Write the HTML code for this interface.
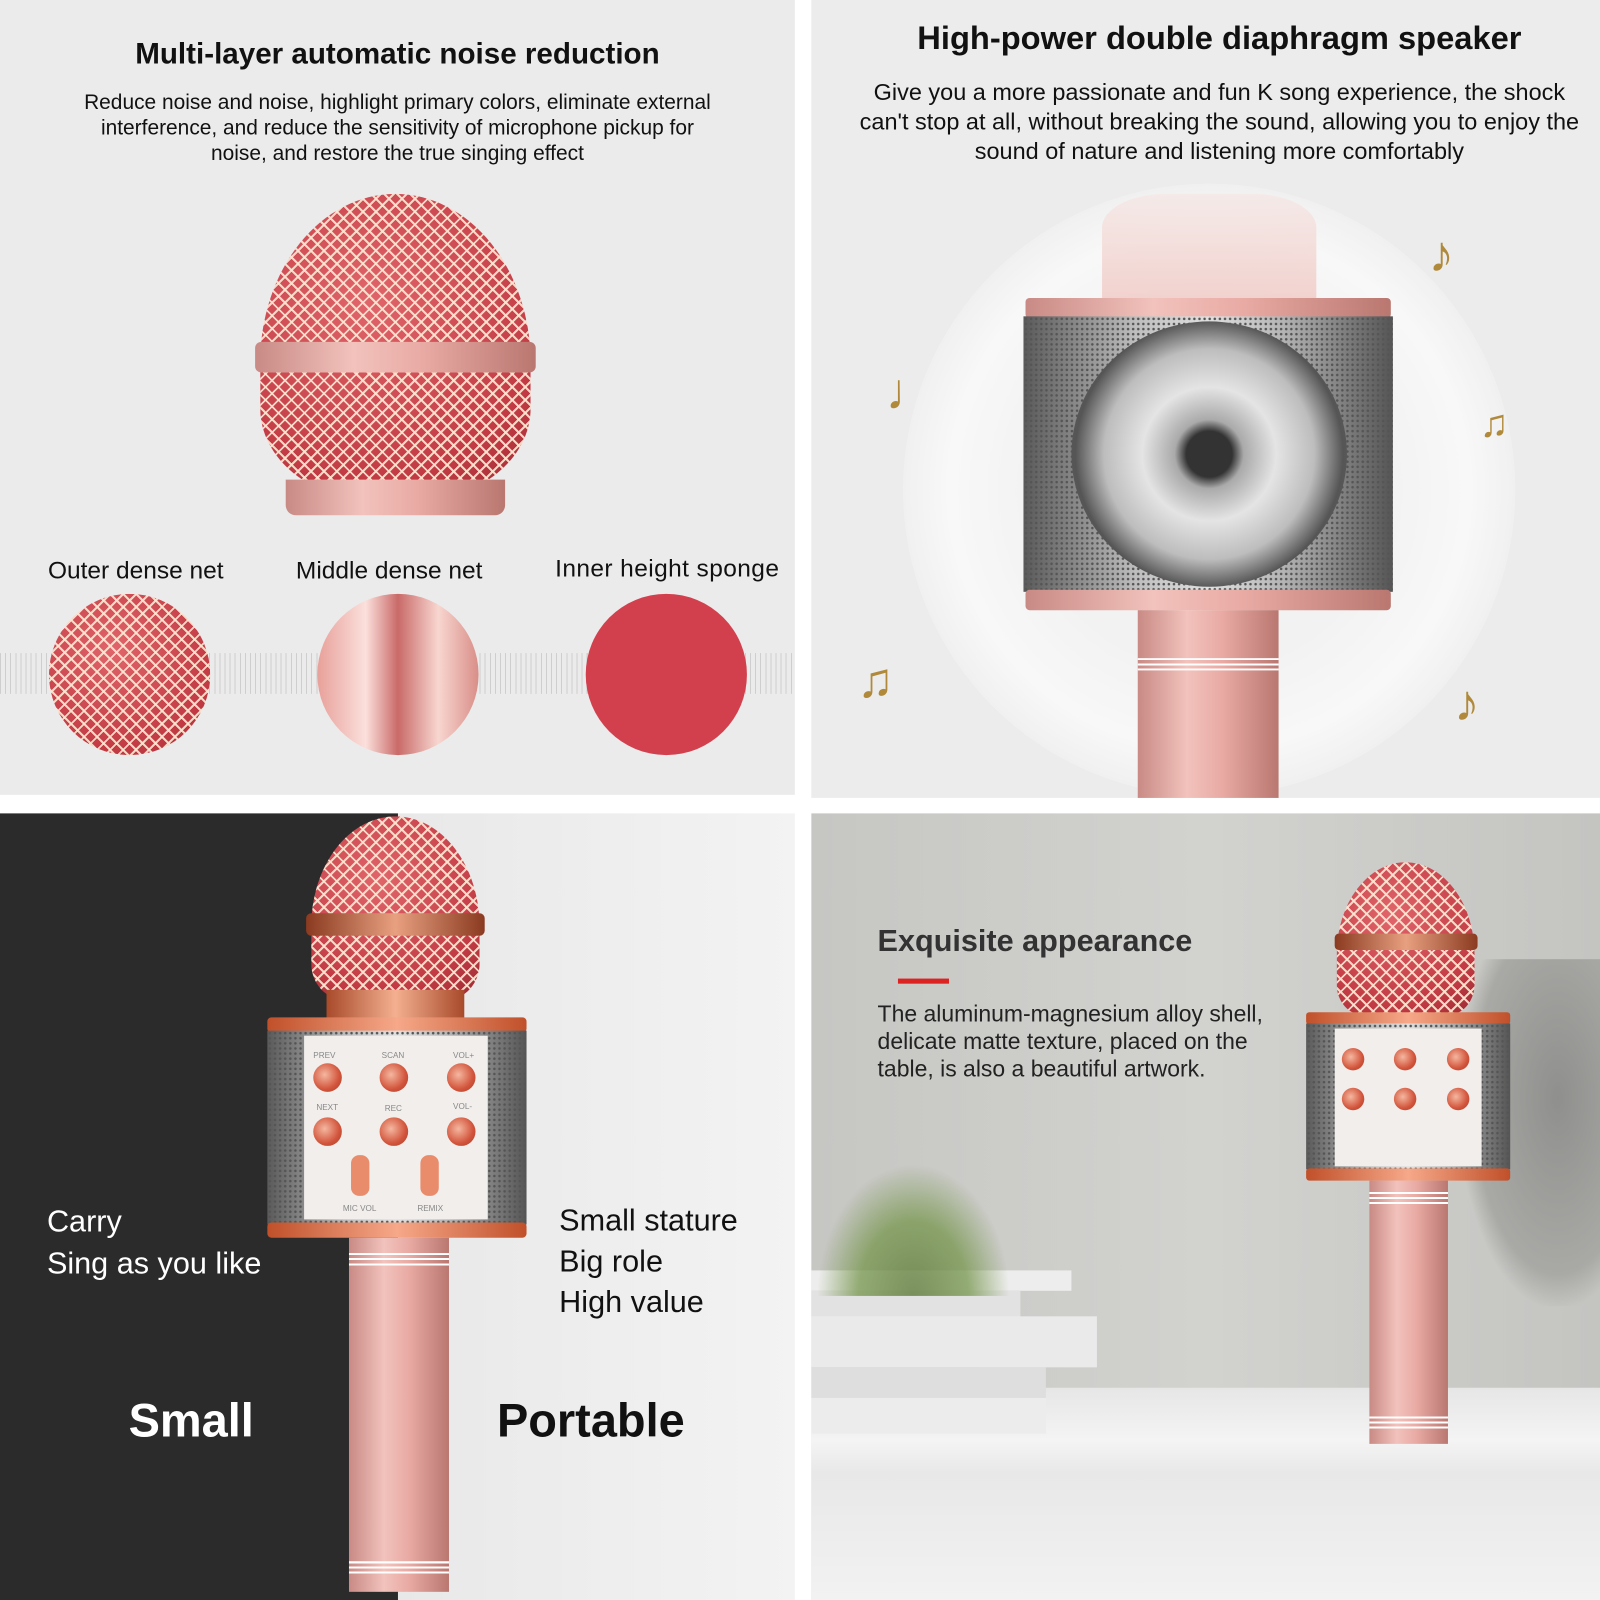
<!DOCTYPE html>
<html><head><meta charset="utf-8"><style>
html,body{margin:0;padding:0;background:#fff;}
#w{width:1568px;height:1568px;position:relative;transform:scale(1.020408);transform-origin:0 0;overflow:hidden;font-family:"Liberation Sans",sans-serif;}
.a{position:absolute;}
.mesh{background:repeating-linear-gradient(45deg,rgba(255,230,210,.9) 0 2px,transparent 2px 9px),repeating-linear-gradient(-45deg,rgba(255,230,210,.9) 0 2px,transparent 2px 9px),radial-gradient(circle at 40% 35%,#e0656a,#c23b44 70%,#9a2a32);}
.t{position:absolute;color:#111;}
.spk{background:radial-gradient(circle,#555 1px,transparent 1.5px) 0 0/5px 5px,linear-gradient(90deg,#5a5a5a,#bdbdbd 30%,#e0e0e0 50%,#b5b5b5 70%,#555);}
.rose{background:linear-gradient(90deg,#c98a85,#f2c2bc 35%,#e9aaa4 60%,#b97770);}
.btn{position:absolute;width:28px;height:28px;border-radius:50%;background:radial-gradient(circle at 40% 40%,#f5b7a0,#d2553c 60%,#a83a28);}
.lbl{position:absolute;font-size:8px;color:#888;}
</style></head><body><div id="w">
<!-- TL -->
<div class="a" style="left:0;top:0;width:779px;height:779px;background:#ebebeb"></div>
<div class="t" style="left:0;width:779px;top:37px;text-align:center;font-weight:bold;font-size:29px">Multi-layer automatic noise reduction</div>
<div class="t" style="left:72px;width:635px;top:88px;text-align:center;font-size:20.5px;line-height:25px">Reduce noise and noise, highlight primary colors, eliminate external interference, and reduce the sensitivity of microphone pickup for noise, and restore the true singing effect</div>
<div class="a mesh" style="left:255px;top:190px;width:265px;height:300px;border-radius:50% 50% 42% 42%/55% 55% 30% 30%"></div>
<div class="a rose" style="left:250px;top:335px;width:275px;height:30px;border-radius:6px"></div>
<div class="a rose" style="left:280px;top:470px;width:215px;height:35px;border-radius:0 0 10px 10px"></div>
<div class="a" style="left:0;top:640px;width:779px;height:40px;background:repeating-linear-gradient(90deg,#bbb 0 1px,transparent 1px 5px);opacity:.6"></div>
<div class="t" style="left:47px;top:546px;font-size:24px">Outer dense net</div>
<div class="t" style="left:290px;top:546px;font-size:24px">Middle dense net</div>
<div class="t" style="left:544px;top:544px;font-size:24px;letter-spacing:.4px">Inner height sponge</div>
<div class="a mesh" style="left:48px;top:582px;width:158px;height:158px;border-radius:50%"></div>
<div class="a" style="left:311px;top:582px;width:158px;height:158px;border-radius:50%;background:linear-gradient(90deg,#e8a09a,#fbe0dc 30%,#c96a68 50%,#f8d6d0 75%,#d98e88)"></div>
<div class="a" style="left:574px;top:582px;width:158px;height:158px;border-radius:50%;background:#d2404e"></div>
<!-- TR -->
<div class="a" style="left:795px;top:0;width:773px;height:782px;background:#ececec"></div>
<div class="a" style="left:885px;top:180px;width:600px;height:600px;border-radius:50%;background:radial-gradient(circle,#f2f2f2 40%,#f8f8f8 60%,#ededed 75%)"></div>
<div class="t" style="left:795px;width:800px;top:19px;text-align:center;font-weight:bold;font-size:32px">High-power double diaphragm speaker</div>
<div class="t" style="left:830px;width:730px;top:76px;text-align:center;font-size:23px;line-height:29px">Give you a more passionate and fun K song experience, the shock can't stop at all, without breaking the sound, allowing you to enjoy the sound of nature and listening more comfortably</div>
<div class="a" style="left:1080px;top:190px;width:210px;height:110px;background:linear-gradient(#f5e8e6,#f0c7c2);opacity:.8;border-radius:30% 30% 0 0"></div>
<div class="a rose" style="left:1005px;top:292px;width:358px;height:20px;border-radius:4px"></div>
<div class="a spk" style="left:1003px;top:310px;width:362px;height:270px"></div>
<div class="a" style="left:1050px;top:315px;width:270px;height:260px;border-radius:50%;background:radial-gradient(circle,#333 12%,#aaa 18%,#e4e4e4 35%,#bdbdbd 55%,#555 70%,#777 100%)"></div>
<div class="a rose" style="left:1005px;top:578px;width:358px;height:20px;border-radius:4px"></div>
<div class="a rose" style="left:1115px;top:598px;width:138px;height:184px"></div>
<div class="a" style="left:1115px;top:645px;width:138px;height:12px;background:repeating-linear-gradient(#fff 0 2px,transparent 2px 5px)"></div>
<div class="t" style="left:868px;top:355px;font-size:50px;color:#b08a3a">♩</div>
<div class="t" style="left:1400px;top:220px;font-size:50px;color:#b08a3a">♪</div>
<div class="t" style="left:1450px;top:395px;font-size:38px;color:#b08a3a">♫</div>
<div class="t" style="left:840px;top:640px;font-size:48px;color:#b08a3a">♫</div>
<div class="t" style="left:1425px;top:660px;font-size:50px;color:#b08a3a">♪</div>
<!-- BL -->
<div class="a" style="left:0;top:797px;width:779px;height:771px;background:linear-gradient(90deg,#f2f2f2,#e6e6e6 40%,#f3f3f3)"></div>
<div class="a" style="left:0;top:797px;width:390px;height:771px;background:#2b2b2b"></div>
<div class="a mesh" style="left:305px;top:800px;width:165px;height:180px;border-radius:50% 50% 20% 20%/60% 60% 20% 20%"></div>
<div class="a" style="left:300px;top:895px;width:175px;height:22px;background:linear-gradient(90deg,#8a3a20,#e7a080,#8a3a20);border-radius:5px"></div>
<div class="a" style="left:320px;top:970px;width:135px;height:30px;background:linear-gradient(90deg,#a84a2a,#f3b090,#a84a2a)"></div>
<div class="a" style="left:262px;top:997px;width:254px;height:15px;background:linear-gradient(90deg,#c0502a,#f6a889,#c0502a);border-radius:4px"></div>
<div class="a spk" style="left:262px;top:1010px;width:254px;height:190px"></div>
<div class="a" style="left:298px;top:1015px;width:180px;height:180px;background:#f1eeec"></div>
<div class="a" style="left:262px;top:1198px;width:254px;height:15px;background:linear-gradient(90deg,#c0502a,#f6a889,#c0502a);border-radius:4px"></div>
<div class="btn" style="left:307px;top:1042px"></div><div class="btn" style="left:372px;top:1042px"></div><div class="btn" style="left:438px;top:1042px"></div>
<div class="btn" style="left:307px;top:1095px"></div><div class="btn" style="left:372px;top:1095px"></div><div class="btn" style="left:438px;top:1095px"></div>
<div class="lbl" style="left:307px;top:1030px">PREV</div><div class="lbl" style="left:374px;top:1030px">SCAN</div><div class="lbl" style="left:444px;top:1030px">VOL+</div>
<div class="lbl" style="left:310px;top:1081px">NEXT</div><div class="lbl" style="left:377px;top:1082px">REC</div><div class="lbl" style="left:444px;top:1080px">VOL-</div>
<div class="lbl" style="left:336px;top:1180px">MIC VOL</div><div class="lbl" style="left:409px;top:1180px">REMIX</div>
<div class="a" style="left:344px;top:1132px;width:18px;height:40px;border-radius:8px;background:#e98c6c"></div>
<div class="a" style="left:412px;top:1132px;width:18px;height:40px;border-radius:8px;background:#e98c6c"></div>
<div class="a rose" style="left:342px;top:1213px;width:98px;height:347px"></div>
<div class="a" style="left:342px;top:1228px;width:98px;height:14px;background:repeating-linear-gradient(#fff 0 2px,transparent 2px 5px)"></div>
<div class="a" style="left:342px;top:1530px;width:98px;height:14px;background:repeating-linear-gradient(#fff 0 2px,transparent 2px 5px)"></div>
<div class="t" style="left:46px;top:1177px;font-size:30px;color:#fff;line-height:41px">Carry<br>Sing as you like</div>
<div class="t" style="left:548px;top:1177px;font-size:30px;line-height:40px">Small stature<br>Big role<br>High value</div>
<div class="t" style="left:126px;top:1365px;font-size:46px;font-weight:bold;color:#fff">Small</div>
<div class="t" style="left:487px;top:1365px;font-size:46px;font-weight:bold">Portable</div>
<!-- BR -->
<div class="a" style="left:795px;top:797px;width:773px;height:771px;background:linear-gradient(90deg,#c6c6c3,#d2d2cf 50%,#c4c4c1)"></div>
<div class="a" style="left:1430px;top:940px;width:138px;height:340px;background:radial-gradient(ellipse at 70% 40%,#8f8f8d,#a9a9a6 60%,transparent 72%)"></div>
<div class="a" style="left:795px;top:1360px;width:773px;height:208px;background:linear-gradient(#e6e6e6,#f4f4f4 25%,#e8e8e8 40%,#f2f2f2)"></div>
<div class="a" style="left:795px;top:1245px;width:255px;height:20px;background:#ededed"></div>
<div class="a" style="left:795px;top:1265px;width:205px;height:60px;background:#e2e2e2"></div>
<div class="a" style="left:795px;top:1290px;width:280px;height:50px;background:#eaeaea"></div>
<div class="a" style="left:795px;top:1340px;width:230px;height:30px;background:#dedede"></div>
<div class="a" style="left:795px;top:1370px;width:230px;height:35px;background:#ececec"></div>
<div class="a" style="left:800px;top:1140px;width:190px;height:130px;background:radial-gradient(ellipse at 50% 100%,#5f7a3a,#7c9a55 40%,transparent 70%);opacity:.8"></div>
<div class="t" style="left:860px;top:906px;font-size:30px;font-weight:bold;color:#333">Exquisite appearance</div>
<div class="a" style="left:880px;top:959px;width:50px;height:5px;background:#d22"></div>
<div class="t" style="left:860px;top:980px;font-size:22.5px;line-height:27px;color:#222">The aluminum-magnesium alloy shell,<br>delicate matte texture, placed on the<br>table, is also a beautiful artwork.</div>
<div class="a mesh" style="left:1310px;top:845px;width:135px;height:150px;border-radius:50% 50% 20% 20%/60% 60% 20% 20%"></div>
<div class="a" style="left:1308px;top:915px;width:140px;height:16px;background:linear-gradient(90deg,#8a3a20,#e7a080,#8a3a20);border-radius:4px"></div>
<div class="a" style="left:1280px;top:992px;width:200px;height:12px;background:linear-gradient(90deg,#c0502a,#f6a889,#c0502a);border-radius:3px"></div>
<div class="a spk" style="left:1280px;top:1003px;width:200px;height:143px"></div>
<div class="a" style="left:1308px;top:1008px;width:144px;height:135px;background:#f1eeec"></div>
<div class="btn" style="left:1315px;top:1027px;width:22px;height:22px"></div><div class="btn" style="left:1366px;top:1027px;width:22px;height:22px"></div><div class="btn" style="left:1418px;top:1027px;width:22px;height:22px"></div>
<div class="btn" style="left:1315px;top:1066px;width:22px;height:22px"></div><div class="btn" style="left:1366px;top:1066px;width:22px;height:22px"></div><div class="btn" style="left:1418px;top:1066px;width:22px;height:22px"></div>
<div class="a" style="left:1280px;top:1145px;width:200px;height:12px;background:linear-gradient(90deg,#c0502a,#f6a889,#c0502a);border-radius:3px"></div>
<div class="a rose" style="left:1342px;top:1157px;width:77px;height:258px"></div>
<div class="a" style="left:1342px;top:1168px;width:77px;height:12px;background:repeating-linear-gradient(#fff 0 2px,transparent 2px 5px)"></div>
<div class="a" style="left:1342px;top:1388px;width:77px;height:12px;background:repeating-linear-gradient(#fff 0 2px,transparent 2px 5px)"></div>
<!-- gaps -->
<div class="a" style="left:779px;top:0;width:16px;height:1568px;background:#fff"></div>
<div class="a" style="left:0;top:779px;width:779px;height:18px;background:#fff"></div>
<div class="a" style="left:795px;top:782px;width:773px;height:15px;background:#fff"></div>
</div></body></html>
